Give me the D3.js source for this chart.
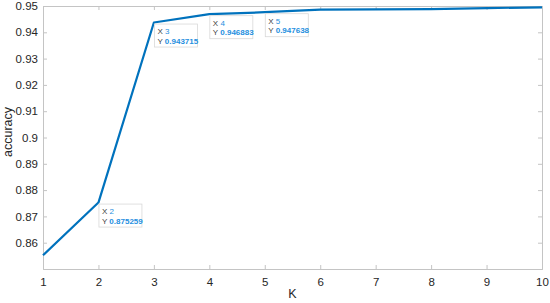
<!DOCTYPE html>
<html>
<head>
<meta charset="utf-8">
<script src="https://cdn.jsdelivr.net/npm/d3@7"></script>
<style>
body { margin: 0; background: #fff; }
text { font-family: "Liberation Sans", Arial, sans-serif; }
</style>
</head>
<body>
<div id="chart"></div>
<script>
var svgWidth = 550;
var svgHeight = 303;

var leftMargin = 43;
var rightMargin = 8;
var topMargin = 6;
var bottomMargin = 34;

var chartWidth = svgWidth - leftMargin - rightMargin;
var chartHeight = svgHeight - topMargin - bottomMargin;

var kValues = [1, 2, 3, 4, 5, 6, 7, 8, 9, 10];
var accuracy = [0.8552, 0.875259, 0.943715, 0.946883, 0.947638, 0.9486, 0.9487, 0.9488, 0.9492, 0.9495];
var xTicks = [1, 2, 3, 4, 5, 6, 7, 8, 9, 10];
var yTicks = [0.86, 0.87, 0.88, 0.89, 0.9, 0.91, 0.92, 0.93, 0.94, 0.95];
var tipX = [2, 3, 4, 5];
var tipY = [0.875259, 0.943715, 0.946883, 0.947638];

var axisColor = '#c4c4c4';
var textColor = '#262626';

var svg = d3.select('#chart')
    .append('svg')
    .attr('width', svgWidth)
    .attr('height', svgHeight);

var chart = svg.append('g')
    .attr('transform', `translate(${leftMargin}, ${topMargin})`);

var x = d3.scaleLinear().domain([1, 10]).range([0, chartWidth]);
var y = d3.scaleLinear().domain([0.85, 0.95]).range([chartHeight, 0]);

function styleAxis(g, showText) {
    g.select('.domain').attr('stroke', axisColor);
    g.selectAll('.tick line').attr('stroke', axisColor);
    g.selectAll('.tick text')
        .attr('fill', textColor)
        .style('font-size', '11.5px')
        .style('display', showText ? null : 'none');
}

chart.append('g')
    .attr('transform', `translate(0, ${chartHeight})`)
    .call(d3.axisBottom(x).tickValues(xTicks).tickSize(-4).tickPadding(9).tickFormat(d3.format('d')))
    .call(g => styleAxis(g, true));

chart.append('g')
    .call(d3.axisTop(x).tickValues(xTicks).tickSize(-4))
    .call(g => styleAxis(g, false));

chart.append('g')
    .call(d3.axisLeft(y).tickValues(yTicks).tickSize(-4).tickPadding(5).tickFormat(d => d3.format('.2f')(d).replace(/0$/, '')))
    .call(g => styleAxis(g, true));

chart.append('g')
    .attr('transform', `translate(${chartWidth}, 0)`)
    .call(d3.axisRight(y).tickValues(yTicks).tickSize(-4))
    .call(g => styleAxis(g, false));

var line = d3.line()
    .x((d, i) => x(kValues[i]))
    .y(d => y(d));

chart.append('path')
    .datum(accuracy)
    .attr('fill', 'none')
    .attr('stroke', '#0072BD')
    .attr('stroke-width', 2.2)
    .attr('stroke-linejoin', 'round')
    .attr('d', line);

// data tips
tipX.forEach(function(k, i) {
    var px = x(k);
    var py = y(tipY[i]);
    var tip = chart.append('g')
        .attr('transform', `translate(${px + 0.5}, ${py + 1.5})`);
    tip.append('rect')
        .attr('width', 43)
        .attr('height', 23)
        .attr('fill', '#fff')
        .attr('fill-opacity', 0.9)
        .attr('stroke', '#d8d8d8')
        .attr('stroke-width', 0.8);
    var t1 = tip.append('text').attr('x', 3).attr('y', 10).style('font-size', '8px');
    t1.append('tspan').attr('fill', '#404040').text('X ');
    t1.append('tspan').attr('fill', '#1f8fe0').text(k);
    var t2 = tip.append('text').attr('x', 3).attr('y', 19.5).style('font-size', '8px');
    t2.append('tspan').attr('fill', '#404040').text('Y ');
    t2.append('tspan').attr('fill', '#1f8fe0').style('font-weight', 'bold').text(d3.format('.6f')(tipY[i]));
});

svg.append('text')
    .attr('x', leftMargin + chartWidth / 2)
    .attr('y', 298)
    .attr('text-anchor', 'middle')
    .attr('fill', textColor)
    .style('font-size', '12.5px')
    .text('K');

svg.append('text')
    .attr('transform', `translate(12, 132) rotate(-90)`)
    .attr('text-anchor', 'middle')
    .attr('fill', textColor)
    .style('font-size', '12.5px')
    .text('accuracy');
</script>
</body>
</html>
